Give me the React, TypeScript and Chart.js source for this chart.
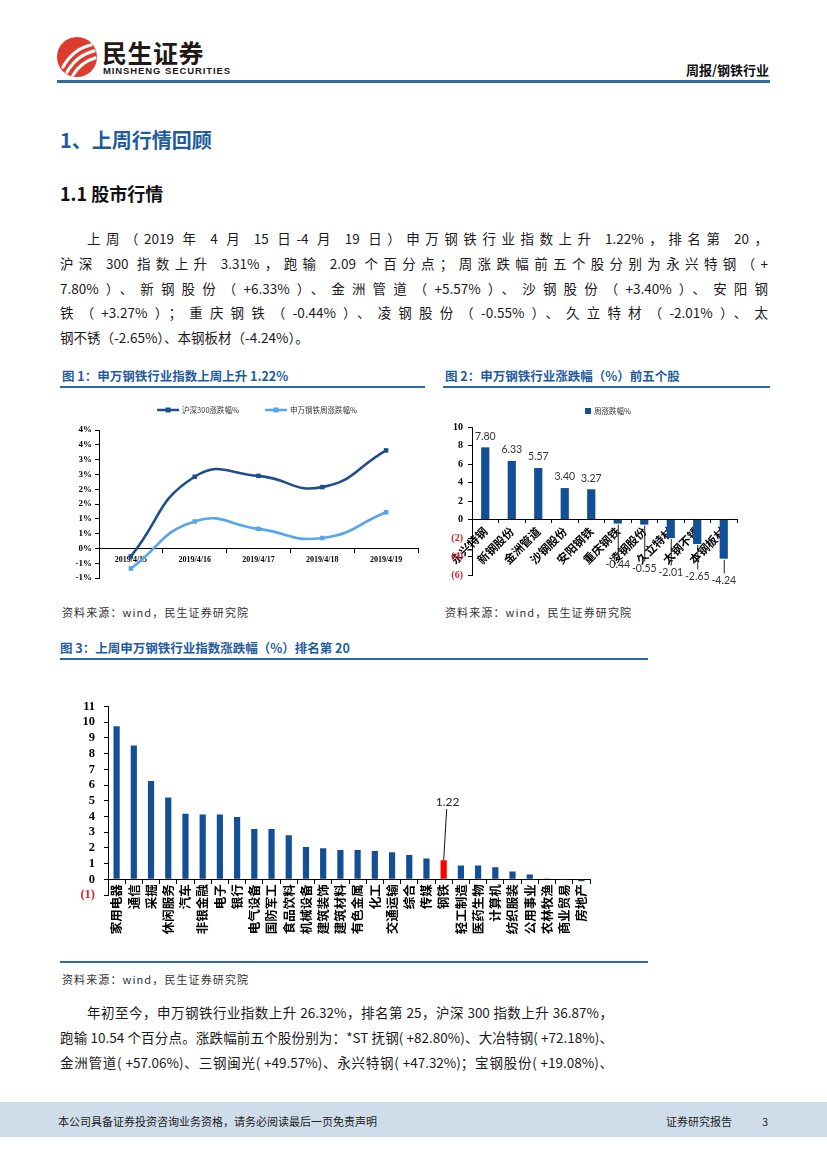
import React, { useEffect, useRef } from "react";
import { Chart, registerables } from "chart.js";

Chart.register(...registerables);

// ---------------- data ----------------
const weekDates = ["2019/4/15", "2019/4/16", "2019/4/17", "2019/4/18", "2019/4/19"];
const hs300Change = [-0.27, 2.42, 2.45, 2.07, 3.31];
const steelIndexChange = [-0.68, 0.91, 0.66, 0.35, 1.22];
const hs300Label = "沪深300涨跌幅%";
const steelLabel = "申万钢铁周涨跌幅%";

const stockNames = ["永兴特钢", "新钢股份", "金洲管道", "沙钢股份", "安阳钢铁", "重庆钢铁", "凌钢股份", "久立特材", "太钢不锈", "本钢板材"];
const stockWeekChange = [7.8, 6.33, 5.57, 3.4, 3.27, -0.44, -0.55, -2.01, -2.65, -4.24];
const stockSeriesLabel = "周涨跌幅%";

const industryNames = ["家用电器", "通信", "采掘", "休闲服务", "汽车", "非银金融", "电子", "银行", "电气设备", "国防军工", "食品饮料", "机械设备", "建筑装饰", "建筑材料", "有色金属", "化工", "交通运输", "综合", "传媒", "钢铁", "轻工制造", "医药生物", "计算机", "纺织服装", "公用事业", "农林牧渔", "商业贸易", "房地产"];
const industryWeekChange = [9.75, 8.52, 6.25, 5.2, 4.18, 4.12, 4.12, 3.97, 3.2, 3.2, 2.8, 2.05, 1.97, 1.86, 1.86, 1.8, 1.72, 1.54, 1.33, 1.22, 0.88, 0.88, 0.76, 0.5, 0.3, 0.02, -0.05, -0.13];
const highlightIndustry = "钢铁";

// ---------------- styles ----------------
const CJK = '"Noto Sans CJK SC", "Noto Sans", sans-serif';
const SERIF = '"Liberation Serif", "Times New Roman", serif';
const BLUE_TXT = "#1F5C9E";
const RULE = "#2D69A6";
const DARK_LINE = "#1F4E8C";
const LIGHT_LINE = "#56A5F0";
const BAR = "#124F96";
const RED = "#FF0000";
const NEG_TICK = "#E0202A";

const customLegend = {
  id: "customLegend",
  afterDraw(chart: any, _args: any, opts: any) {
    if (!opts || !opts.display) return;
    const ctx = chart.ctx as CanvasRenderingContext2D;
    ctx.save();
    ctx.font = `${opts.fontSize}px ${CJK}`;
    const items = chart.data.datasets.map((ds: any) => ({
      text: ds.label,
      color: typeof ds.borderColor === "string" && opts.kind === "line" ? ds.borderColor : Array.isArray(ds.backgroundColor) ? ds.backgroundColor[0] : ds.backgroundColor,
    }));
    const markW = opts.markWidth;
    const gapText = 3;
    const widths = items.map((it: any) => markW + gapText + ctx.measureText(it.text).width);
    const total = widths.reduce((a: number, b: number) => a + b, 0) + opts.gap * (items.length - 1);
    let x = opts.centerX - total / 2;
    const y = opts.y;
    items.forEach((it: any, i: number) => {
      ctx.fillStyle = it.color;
      if (opts.kind === "line") {
        ctx.strokeStyle = it.color;
        ctx.lineWidth = 2.5;
        ctx.beginPath();
        ctx.moveTo(x, y);
        ctx.lineTo(x + markW, y);
        ctx.stroke();
        ctx.fillRect(x + markW / 2 - 2.5, y - 2.5, 5, 5);
      } else {
        ctx.fillRect(x, y - 3, markW, 6);
      }
      ctx.fillStyle = "#333";
      ctx.textBaseline = "middle";
      ctx.textAlign = "left";
      ctx.fillText(it.text, x + markW + gapText, y);
      x += widths[i] + opts.gap;
    });
    ctx.restore();
  },
};

const stockLabels = {
  id: "stockLabels",
  afterDatasetsDraw(chart: any) {
    const ctx = chart.ctx as CanvasRenderingContext2D;
    const meta = chart.getDatasetMeta(0);
    const data = chart.data.datasets[0].data as number[];
    const zero = chart.scales.y.getPixelForValue(0);
    ctx.save();
    ctx.font = `10.5px Lato, "Liberation Sans", sans-serif`;
    ctx.fillStyle = "#333";
    ctx.strokeStyle = "#222";
    ctx.lineWidth = 1;
    ctx.textAlign = "center";
    ctx.textBaseline = "middle";
    let k = 0;
    meta.data.forEach((bar: any, i: number) => {
      const v = data[i];
      const t = v.toFixed(2);
      if (v >= 0) {
        ctx.fillText(t, bar.x, bar.y - 11);
      } else {
        const ly = zero + 45 + k * 4;
        k++;
        ctx.beginPath();
        ctx.moveTo(bar.x + 0.5, bar.y + 1);
        ctx.lineTo(bar.x + 0.5, ly - 7);
        ctx.stroke();
        ctx.fillText(t, bar.x, ly);
      }
    });
    ctx.restore();
  },
};

const industryLabel = {
  id: "industryLabel",
  afterDatasetsDraw(chart: any) {
    const ctx = chart.ctx as CanvasRenderingContext2D;
    const meta = chart.getDatasetMeta(0);
    const data = chart.data.datasets[0].data as number[];
    const idx = (chart.data.labels as string[]).findIndex((l) => l === highlightIndustry);
    if (idx < 0) return;
    const bar: any = meta.data[idx];
    ctx.save();
    ctx.strokeStyle = "#111";
    ctx.lineWidth = 1;
    ctx.beginPath();
    ctx.moveTo(bar.x + 3, bar.y - 51);
    ctx.lineTo(bar.x, bar.y);
    ctx.stroke();
    ctx.font = `12px Lato, "Liberation Sans", sans-serif`;
    ctx.fillStyle = "#222";
    ctx.textAlign = "center";
    ctx.textBaseline = "middle";
    ctx.fillText(data[idx].toFixed(2), bar.x + 4, bar.y - 58);
    ctx.restore();
  },
};

function ChartBox({ left, top, width, height, make }: any) {
  const ref = useRef<HTMLCanvasElement>(null);
  useEffect(() => {
    const c = new Chart(ref.current as HTMLCanvasElement, make());
    return () => c.destroy();
  }, []);
  return (
    <div style={{ position: "absolute", left, top, width, height }}>
      <canvas ref={ref} />
    </div>
  );
}

function makeLineChart(): any {
  return {
    type: "line",
    data: {
      labels: weekDates,
      datasets: [
        { label: hs300Label, data: hs300Change, borderColor: DARK_LINE, backgroundColor: DARK_LINE, borderWidth: 2.6, pointStyle: "rect", pointRadius: 3.2, pointBorderWidth: 0, pointBackgroundColor: DARK_LINE, tension: 0.5 },
        { label: steelLabel, data: steelIndexChange, borderColor: LIGHT_LINE, backgroundColor: LIGHT_LINE, borderWidth: 2.6, pointStyle: "rect", pointRadius: 3.2, pointBorderWidth: 0, pointBackgroundColor: LIGHT_LINE, tension: 0.5 },
      ],
    },
    options: {
      animation: false,
      responsive: true,
      maintainAspectRatio: false,
      layout: { padding: { left: 0, right: 4, top: 35, bottom: 17 } },
      plugins: {
        legend: { display: false },
        tooltip: { enabled: false },
        customLegend: { display: true, kind: "line", centerX: 195, y: 15, fontSize: 7.5, markWidth: 22, gap: 26 },
      },
      scales: {
        x: {
          position: { y: 0 },
          offset: true,
          grid: { drawOnChartArea: false, offset: true, tickLength: 4, color: "#000" },
          border: { color: "#000", width: 1 },
          ticks: { font: { family: SERIF, weight: "bold", size: 8 }, color: "#000", minRotation: 0, maxRotation: 0, padding: 3, autoSkip: false },
        },
        y: {
          min: -1,
          max: 4,
          grid: { drawOnChartArea: false, tickLength: 4, color: "#000" },
          border: { color: "#000", width: 1 },
          ticks: {
            stepSize: 0.5,
            autoSkip: false,
            padding: 3,
            color: "#000",
            font: { family: SERIF, weight: "bold", size: 9 },
            callback: (v: any) => {
              const n = Number(v);
              const r = Math.sign(n) * Math.round(Math.abs(n));
              return `${r === 0 ? 0 : r}%`;
            },
          },
          afterFit: (s: any) => {
            s.width = 37;
          },
        },
      },
    },
    plugins: [customLegend],
  };
}

function makeStockChart(): any {
  return {
    type: "bar",
    data: {
      labels: stockNames,
      datasets: [{ label: stockSeriesLabel, data: stockWeekChange, backgroundColor: BAR, categoryPercentage: 1, barPercentage: 0.31 }],
    },
    options: {
      animation: false,
      responsive: true,
      maintainAspectRatio: false,
      layout: { padding: { left: 0, right: 33, top: 32, bottom: 20 } },
      plugins: {
        legend: { display: false },
        tooltip: { enabled: false },
        customLegend: { display: true, kind: "box", centerX: 168, y: 16, fontSize: 7.5, markWidth: 6, gap: 20 },
      },
      scales: {
        x: {
          position: { y: 0 },
          offset: true,
          grid: { drawOnChartArea: false, offset: true, tickLength: 3, color: "#000" },
          border: { color: "#000", width: 1 },
          ticks: { font: { family: CJK, weight: "bold", size: 11.5 }, color: "#000", minRotation: 45, maxRotation: 45, padding: 2, autoSkip: false },
        },
        y: {
          min: -6,
          max: 10,
          grid: { drawOnChartArea: false, tickLength: 4, color: "#000" },
          border: { color: "#000", width: 1 },
          ticks: {
            stepSize: 2,
            autoSkip: false,
            padding: 5,
            font: { family: SERIF, weight: "bold", size: 10 },
            color: (c: any) => (c.tick && c.tick.value < 0 ? NEG_TICK : "#000"),
            callback: (v: any) => (Number(v) < 0 ? `(${-Number(v)})` : `${v}`),
          },
          afterFit: (s: any) => {
            s.width = 32;
          },
        },
      },
    },
    plugins: [customLegend, stockLabels],
  };
}

function makeIndustryChart(): any {
  return {
    type: "bar",
    data: {
      labels: industryNames,
      datasets: [
        {
          label: "上周涨跌幅",
          data: industryWeekChange,
          backgroundColor: industryNames.map((n) => (n === highlightIndustry ? RED : BAR)),
          categoryPercentage: 1,
          barPercentage: 0.36,
        },
      ],
    },
    options: {
      animation: false,
      responsive: true,
      maintainAspectRatio: false,
      layout: { padding: { left: 0, right: 60, top: 13, bottom: 65 } },
      plugins: { legend: { display: false }, tooltip: { enabled: false } },
      scales: {
        x: {
          position: { y: 0 },
          offset: true,
          grid: { drawOnChartArea: false, offset: true, tickLength: 4, color: "#000" },
          border: { color: "#000", width: 1 },
          ticks: { font: { family: CJK, weight: "bold", size: 12.5 }, color: "#000", minRotation: 90, maxRotation: 90, padding: 1, autoSkip: false },
        },
        y: {
          min: -1,
          max: 11,
          grid: { drawOnChartArea: false, tickLength: 4, color: "#000" },
          border: { color: "#000", width: 1 },
          ticks: {
            stepSize: 1,
            autoSkip: false,
            padding: 9,
            font: { family: SERIF, weight: "bold", size: 12.5 },
            color: (c: any) => (c.tick && c.tick.value < 0 ? NEG_TICK : "#000"),
            callback: (v: any) => (Number(v) < 0 ? `(${-Number(v)})` : `${v}`),
          },
          afterFit: (s: any) => {
            s.width = 48;
          },
        },
      },
    },
    plugins: [industryLabel],
  };
}

function Txt({ left, right, cy, size, lh, children, style }: any) {
  const h = lh || Math.round(size * 1.4);
  return (
    <div
      style={{
        position: "absolute",
        left,
        right,
        top: cy - h / 2,
        fontSize: size,
        lineHeight: `${h}px`,
        whiteSpace: "nowrap",
        ...style,
      }}
    >
      {children}
    </div>
  );
}

function JLine({ left, width, cy, size, text, justify = true }: any) {
  const h = 20;
  return (
    <div
      style={{
        position: "absolute",
        left,
        width,
        top: cy - h / 2,
        fontSize: size,
        lineHeight: `${h}px`,
        whiteSpace: "nowrap",
        textAlign: justify ? "justify" : "left",
        textAlignLast: justify ? "justify" : "left",
        color: "#1a1a1a",
      } as any}
    >
      {text}
    </div>
  );
}

function Rule({ left, top, width, height = 2, color = RULE }: any) {
  return <div style={{ position: "absolute", left, top, width, height, background: color }} />;
}

const para1 = [
  "上周（2019 年 4 月 15 日-4 月 19 日）申万钢铁行业指数上升 1.22%，排名第 20，",
  "沪深 300 指数上升 3.31%，跑输 2.09 个百分点；周涨跌幅前五个股分别为永兴特钢（+",
  "7.80%）、新钢股份（+6.33%）、金洲管道（+5.57%）、沙钢股份（+3.40%）、安阳钢",
  "铁（+3.27%）；重庆钢铁（-0.44%）、凌钢股份（-0.55%）、久立特材（-2.01%）、太",
  "钢不锈（-2.65%）、本钢板材（-4.24%）。",
];
const para2 = [
  "年初至今，申万钢铁行业指数上升 26.32%，排名第 25，沪深 300 指数上升 36.87%，",
  "跑输 10.54 个百分点。涨跌幅前五个股份别为：*ST 抚钢( +82.80%)、大冶特钢( +72.18%)、",
  "金洲管道( +57.06%)、三钢闽光( +49.57%)、永兴特钢( +47.32%)；宝钢股份( +19.08%)、",
];

export default function App() {
  const src = "资料来源：wind，民生证券研究院";
  return (
    <div
      style={{
        position: "absolute",
        left: 0,
        top: 0,
        width: 827,
        height: 1169,
        background: "#fff",
        fontFamily: CJK,
        color: "#222",
        overflow: "hidden",
      }}
    >
      {/* header */}
      <svg style={{ position: "absolute", left: 56, top: 36 }} width="42" height="42" viewBox="0 0 42 42">
        <circle cx="21" cy="21" r="20" fill="#DF3A2E" />
        <path d="M7 31 Q17 13 35 9" stroke="#fff" strokeWidth="3.2" fill="none" strokeLinecap="round" />
        <path d="M11 36 Q21 19 38 15" stroke="#fff" strokeWidth="3.2" fill="none" strokeLinecap="round" />
        <path d="M17 39 Q25 26 39 22" stroke="#fff" strokeWidth="3.2" fill="none" strokeLinecap="round" />
      </svg>
      <Txt left={102} cy={52} size={25} lh={28} style={{ fontWeight: 700, color: "#231815", letterSpacing: 0.5 }}>
        民生证券
      </Txt>
      <Txt left={103} cy={70.5} size={9.5} lh={11} style={{ fontWeight: 700, fontFamily: '"Liberation Sans Narrow", "Liberation Sans", sans-serif', color: "#231815", letterSpacing: 0.9 }}>
        MINSHENG SECURITIES
      </Txt>
      <Txt right={58} cy={70} size={13} lh={18} style={{ fontWeight: 700, color: "#111" }}>
        周报/钢铁行业
      </Txt>
      <Rule left={57} top={80} width={713} height={3} />

      {/* headings */}
      <Txt left={60} cy={140} size={20} lh={28} style={{ fontWeight: 700, color: BLUE_TXT }}>
        1、上周行情回顾
      </Txt>
      <Txt left={60} cy={193} size={18} lh={26} style={{ fontWeight: 700, color: "#111" }}>
        1.1 股市行情
      </Txt>

      {para1.map((t, i) => (
        <JLine key={i} left={i === 0 ? 87 : 60} width={i === 0 ? 681 : 708} cy={238 + i * 24.8} size={13.5} text={t} justify={i < para1.length - 1} />
      ))}

      {/* figure titles */}
      <Txt left={62} cy={376} size={12.5} lh={16} style={{ fontWeight: 700, color: BLUE_TXT }}>
        图 1：申万钢铁行业指数上周上升 1.22%
      </Txt>
      <Rule left={60} top={386} width={365} />
      <Txt left={445} cy={376} size={12.5} lh={16} style={{ fontWeight: 700, color: BLUE_TXT }}>
        图 2：申万钢铁行业涨跌幅（%）前五个股
      </Txt>
      <Rule left={443} top={386} width={327} />

      <ChartBox left={62} top={395} width={360} height={200} make={makeLineChart} />
      <ChartBox left={440} top={395} width={330} height={200} make={makeStockChart} />

      <Txt left={62} cy={612} size={11} lh={15} style={{ color: "#333", letterSpacing: 1.1 }}>
        {src}
      </Txt>
      <Txt left={445} cy={612} size={11} lh={15} style={{ color: "#333", letterSpacing: 1.1 }}>
        {src}
      </Txt>

      <Txt left={60} cy={648} size={12.5} lh={16} style={{ fontWeight: 700, color: BLUE_TXT }}>
        图 3：上周申万钢铁行业指数涨跌幅（%）排名第 20
      </Txt>
      <Rule left={60} top={658} width={588} />

      <ChartBox left={60} top={690} width={590} height={270} make={makeIndustryChart} />
      <Rule left={60} top={961} width={588} />

      <Txt left={62} cy={979} size={11} lh={15} style={{ color: "#333", letterSpacing: 1.1 }}>
        {src}
      </Txt>

      {para2.map((t, i) => (
        <JLine key={i} left={i === 0 ? 87 : 60} width={i === 0 ? 526 : 553} cy={1012 + i * 25} size={13.5} text={t} justify={true} />
      ))}

      {/* footer */}
      <div style={{ position: "absolute", left: 0, top: 1102, width: 827, height: 35, background: "#CFDDEB" }} />
      <Txt left={58} cy={1121} size={11} lh={15} style={{ color: "#222" }}>
        本公司具备证券投资咨询业务资格，请务必阅读最后一页免责声明
      </Txt>
      <Txt left={666} cy={1121} size={11} lh={15} style={{ color: "#222" }}>
        证券研究报告
      </Txt>
      <Txt left={762} cy={1121} size={11} lh={15} style={{ color: "#222" }}>
        3
      </Txt>
    </div>
  );
}
